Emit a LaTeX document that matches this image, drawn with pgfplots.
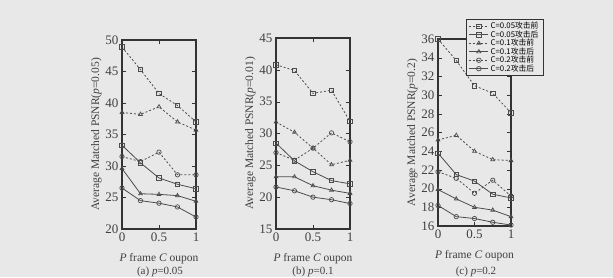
\documentclass[border=0pt]{standalone}
\usepackage{pgfplots}
\pgfplotsset{compat=1.18}
\usepackage{fontspec}
\setmainfont{Liberation Serif}
\newfontfamily\cjk{Noto Sans CJK SC}
\definecolor{ln}{gray}{0.3}
\definecolor{bg}{gray}{0.91}
\pgfplotsset{
  panel/.style={
    scale only axis, width=74pt, height=189pt,
    xmin=0, xmax=1, xtick={0,0.5,1}, xticklabels={0,0.5,1},
    axis line style={line width=1.1pt, black!80},
    tick style={black!80},
    /pgf/number format/assume math mode=true,
    tick label style={font=\fontsize{13}{13}\selectfont, text=black!75},
    label style={font=\fontsize{11.5}{12}\selectfont, text=black!75},
    xlabel={\textit{P} frame \textit{C} oupon},
    xlabel style={yshift=-5pt},
    ylabel style={yshift=-3pt},
    every axis plot/.append style={line width=0.8pt, ln, mark size=2.2pt, mark options={solid, fill=bg, line width=0.7pt}},
  },
  dsq/.style={dash pattern=on 2pt off 2pt, mark=square},
  ssq/.style={solid, mark=square},
  dtr/.style={dash pattern=on 2pt off 2pt, mark=triangle},
  str/.style={solid, mark=triangle},
  dci/.style={dash pattern=on 2pt off 2pt, mark=o},
  sci/.style={solid, mark=o},
}
\begin{document}
\begin{tikzpicture}[x=1pt,y=1pt]
\fill[bg] (0,0) rectangle (613,277);
\useasboundingbox (0,0) rectangle (613,277);
% (a)
\begin{axis}[panel, at={(122pt,48pt)}, anchor=south west,
  ymin=20, ymax=50, ytick={20,25,...,50},
  ylabel={Average Matched PSNR(\textit{p}=0.05)}]
\addplot[dsq] coordinates {(0,48.9) (0.25,45.3) (0.5,41.5) (0.75,39.6) (1,37.0)};
\addplot[ssq] coordinates {(0,33.3) (0.25,30.5) (0.5,28.1) (0.75,27.1) (1,26.4)};
\addplot[dtr] coordinates {(0,38.5) (0.25,38.2) (0.5,39.4) (0.75,37.0) (1,35.7)};
\addplot[str] coordinates {(0,29.6) (0.25,25.6) (0.5,25.5) (0.75,25.3) (1,24.4)};
\addplot[dci] coordinates {(0,31.5) (0.25,30.7) (0.5,32.2) (0.75,28.6) (1,28.6)};
\addplot[sci] coordinates {(0,26.5) (0.25,24.5) (0.5,24.1) (0.75,23.5) (1,21.9)};
\end{axis}
% (b)
\begin{axis}[panel, at={(276pt,48pt)}, anchor=south west, height=191pt,
  ymin=15, ymax=45, ytick={15,20,...,45},
  ylabel={Average Matched PSNR(\textit{p}=0.01)}]
\addplot[dsq] coordinates {(0,40.8) (0.25,39.9) (0.5,36.3) (0.75,36.8) (1,31.9)};
\addplot[ssq] coordinates {(0,28.5) (0.25,25.7) (0.5,24.0) (0.75,22.6) (1,22.1)};
\addplot[dtr] coordinates {(0,31.8) (0.25,30.2) (0.5,27.7) (0.75,25.1) (1,25.8)};
\addplot[str] coordinates {(0,23.2) (0.25,23.2) (0.5,21.8) (0.75,21.1) (1,20.6)};
\addplot[dci] coordinates {(0,27.0) (0.25,25.8) (0.5,27.7) (0.75,30.1) (1,28.7)};
\addplot[sci] coordinates {(0,21.6) (0.25,21.0) (0.5,20.0) (0.75,19.6) (1,19.0)};
\end{axis}
% (c)
\begin{axis}[panel, at={(438pt,51pt)}, anchor=south west, width=73pt, height=187pt,
  ymin=16, ymax=36, ytick={16,18,...,36},
  ylabel={Average Matched PSNR(\textit{p}=0.2)},
  legend style={at={(axis description cs:0.38,1.107)}, anchor=north west,
    font=\cjk\fontsize{7.8}{7.8}\selectfont, draw=black!80, fill=bg,
    inner xsep=3pt, inner ysep=1pt, row sep=-3.6pt, line width=0.6pt,
    nodes={inner xsep=2pt}},
  legend image post style={xscale=1.1},
  legend cell align=left]
\addplot[dsq] coordinates {(0,36.0) (0.25,33.7) (0.5,31.0) (0.75,30.2) (1,28.1)};
\addplot[ssq] coordinates {(0,23.8) (0.25,21.5) (0.5,20.8) (0.75,19.4) (1,19.0)};
\addplot[dtr] coordinates {(0,25.2) (0.25,25.7) (0.5,24.0) (0.75,23.1) (1,23.0)};
\addplot[str] coordinates {(0,19.9) (0.25,18.9) (0.5,18.0) (0.75,17.7) (1,17.0)};
\addplot[dci] coordinates {(0,21.8) (0.25,21.1) (0.5,19.5) (0.75,20.9) (1,19.2)};
\addplot[sci] coordinates {(0,18.2) (0.25,17.0) (0.5,16.8) (0.75,16.4) (1,16.1)};
\legend{C=0.05攻击前, C=0.05攻击后, C=0.1攻击前, C=0.1攻击后, C=0.2攻击前, C=0.2攻击后}
\end{axis}
\node[font=\fontsize{11}{12}\selectfont, text=black!75] at (160,5) {(a) \textit{p}=0.05};
\node[font=\fontsize{11}{12}\selectfont, text=black!75] at (313,5) {(b) \textit{p}=0.1};
\node[font=\fontsize{11}{12}\selectfont, text=black!75] at (476,5) {(c) \textit{p}=0.2};
\end{tikzpicture}
\end{document}
